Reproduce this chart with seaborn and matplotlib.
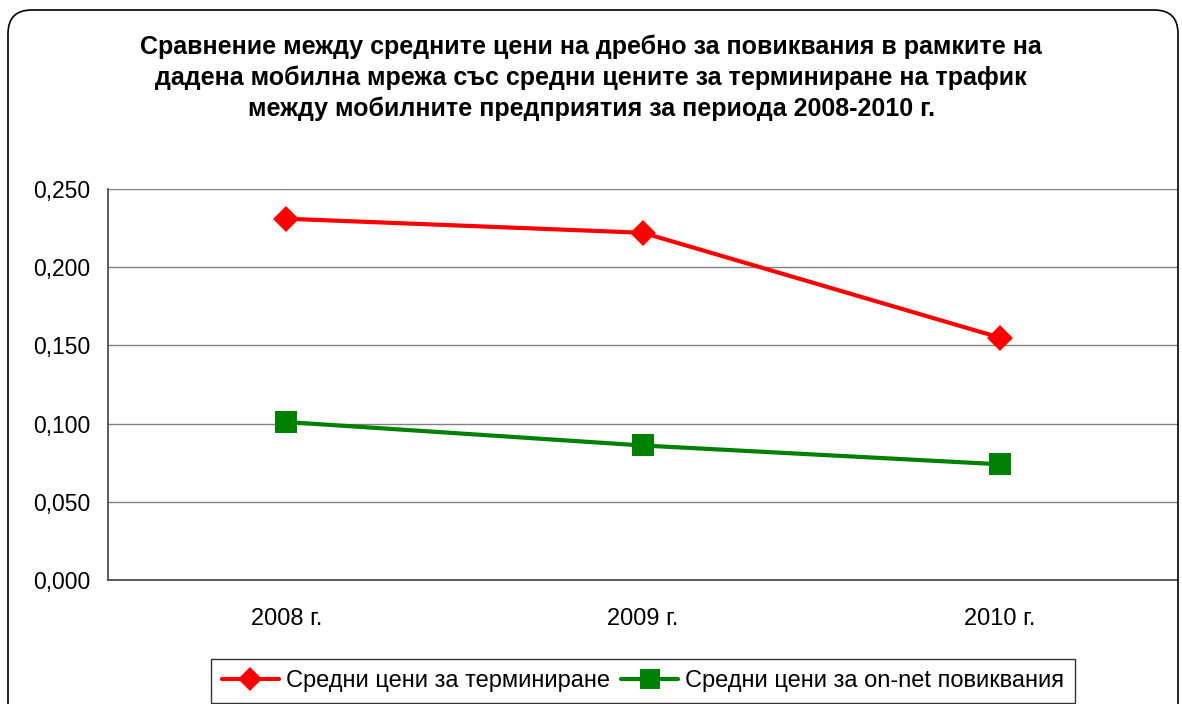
import pandas as pd
import matplotlib
matplotlib.use('Agg')
import matplotlib.pyplot as plt
import seaborn as sb
from matplotlib.patches import FancyBboxPatch
from matplotlib.ticker import FuncFormatter, FixedLocator

godi = ["2008 г.", "2009 г.", "2010 г."]
terminirane = [0.231, 0.222, 0.155]
on_net = [0.101, 0.086, 0.074]
red_label = "Средни цени за терминиране"
green_label = "Средни цени за on-net повиквания"
zaglavie = ("Сравнение между средните цени на дребно за повиквания в рамките на\n"
            "дадена мобилна мрежа със средни цените за терминиране на трафик\n"
            "между мобилните предприятия за периода 2008-2010 г.")

sb.set_style('white')
plt.rcParams['font.family'] = ['Liberation Sans', 'DejaVu Sans']
plt.rcParams['text.color'] = 'black'
plt.rcParams['xtick.labelcolor'] = 'black'
plt.rcParams['ytick.labelcolor'] = 'black'

df = pd.DataFrame({
    'godina': godi * 2,
    'cena': terminirane + on_net,
    'serija': [red_label] * 3 + [green_label] * 3,
})

fig = plt.figure(figsize=(11.82, 7.04), dpi=100)
ax = fig.add_axes([108 / 1182, 1 - 580 / 704, 1070 / 1182, 391 / 704])

sb.lineplot(data=df, x='godina', y='cena', hue='serija', style='serija',
            palette={red_label: '#ff0000', green_label: '#008000'},
            markers={red_label: 'D', green_label: 's'}, dashes=False,
            linewidth=3, markeredgewidth=0, ax=ax, legend=False, zorder=3)
for ln, ms in zip(ax.lines, [13, 16.5]):
    ln.set_markersize(ms)

ax.set_xlim(-0.5, 2.5)
ax.set_ylim(0, 0.25)
ax.set_yticks([0, 0.05, 0.1, 0.15, 0.2, 0.25])
ax.yaxis.set_major_formatter(FuncFormatter(lambda v, p: f"{v:.3f}".replace('.', ',')))
ax.grid(axis='y', color='#808080', linewidth=1)
ax.set_axisbelow(True)
ax.set_xlabel('')
ax.set_ylabel('')
ax.xaxis.set_minor_locator(FixedLocator([-0.5, 0.5, 1.5, 2.5]))
ax.tick_params(axis='x', which='major', length=0, pad=20, labelsize=17, labelcolor='black')
ax.tick_params(axis='x', which='minor', length=6, color='#404040', direction='out')
ax.tick_params(axis='y', length=6, color='#404040', direction='out', labelsize=16.5,
               pad=7, labelcolor='black')
for s in ['top', 'right']:
    ax.spines[s].set_visible(False)
for s in ['left', 'bottom']:
    ax.spines[s].set_color('#404040')
    ax.spines[s].set_linewidth(1.2)

fig.text(591 / 1182, 1 - 78 / 704, zaglavie, ha='center', va='center', color='black',
         fontsize=18, fontweight='bold', linespacing=1.34)

handles = [
    plt.Line2D([], [], color='#ff0000', lw=3, marker='D', markersize=12, markeredgewidth=0),
    plt.Line2D([], [], color='#008000', lw=3, marker='s', markersize=14, markeredgewidth=0),
]
leg = fig.legend(handles, [red_label, green_label], loc='center',
                 bbox_to_anchor=(643 / 1182, 1 - 681 / 704), ncol=2, fontsize=17,
                 frameon=True, fancybox=False, edgecolor='black', handlelength=2.4,
                 handletextpad=0.3, columnspacing=0.5, borderpad=0.45, borderaxespad=0)
leg.get_frame().set_linewidth(1)
for t in leg.get_texts():
    t.set_color('black')

frame = FancyBboxPatch((8 / 1182, -0.05), 1170 / 1182, 1 - 10 / 704 + 0.05,
                       boxstyle='round,pad=0,rounding_size=0.02',
                       transform=fig.transFigure, fill=False,
                       edgecolor='black', linewidth=1.2, mutation_aspect=1182 / 704)
fig.patches.append(frame)

fig.savefig('out.png', dpi=100)
